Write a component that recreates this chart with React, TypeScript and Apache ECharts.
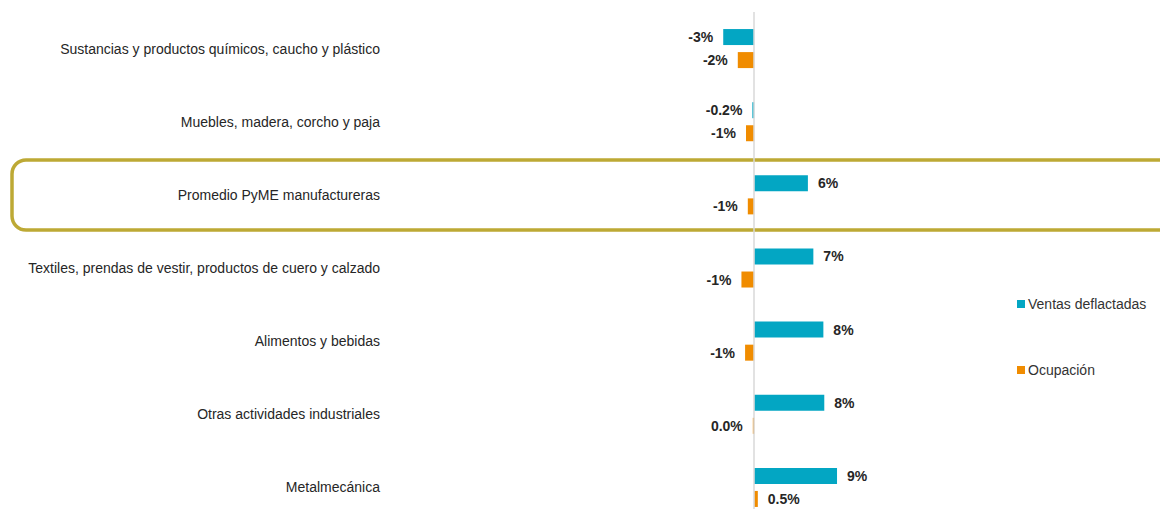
import React, { useEffect, useRef } from "react";
import * as echarts from "echarts";

const categories = [
  "Sustancias y productos químicos, caucho y plástico",
  "Muebles, madera, corcho y paja",
  "Promedio PyME manufactureras",
  "Textiles, prendas de vestir, productos de cuero y calzado",
  "Alimentos y bebidas",
  "Otras actividades industriales",
  "Metalmecánica",
];
const ventasValues = [-3.4, -0.2, 5.9, 6.5, 7.6, 7.7, 9.1];
const ventasLabels = ["-3%", "-0.2%", "6%", "7%", "8%", "8%", "9%"];
const ocupacionValues = [-1.8, -0.9, -0.7, -1.4, -1.0, -0.15, 0.4];
const ocupacionLabels = ["-2%", "-1%", "-1%", "-1%", "-1%", "0.0%", "0.5%"];

const FONT = "'Liberation Sans', Arial, sans-serif";
const NARROW = "'Liberation Sans Narrow', 'Arial Narrow', 'Liberation Sans', sans-serif";

export default function App() {
  const ref = useRef<HTMLDivElement>(null);
  useEffect(() => {
    if (!ref.current) return;
    const chart = echarts.init(ref.current, null, { renderer: "svg" });
    const mkLabel = (labels: string[]) => ({
      show: true,
      position: "right" as const,
      distance: 10,
      fontFamily: NARROW,
      fontWeight: "bold" as const,
      fontSize: 14,
      color: "#262626",
      formatter: (p: any) => labels[p.dataIndex],
    });
    const mkData = (vals: number[]) =>
      vals.map((v) => ({
        value: v,
        label: { position: v < 0 ? "left" : "right" },
      }));
    chart.setOption({
      animation: false,
      graphic: [
        {
          type: "rect",
          z: 0,
          shape: { x: 12, y: 160, width: 1180, height: 70, r: 14 },
          style: { fill: "none", stroke: "#BDA935", lineWidth: 3.5 },
        },
      ],
      legend: {
        orient: "vertical",
        left: 1012,
        top: 292,
        itemWidth: 8,
        itemHeight: 8,
        itemGap: 52,
        icon: "rect",
        textStyle: { fontFamily: FONT, fontSize: 14, color: "#333", padding: [0, 0, 0, -2] },
        data: ["Ventas deflactadas", "Ocupación"],
      },
      grid: { left: 390, width: 610, top: 12, height: 512, outerBoundsMode: "none", containLabel: false },
      xAxis: {
        type: "value",
        min: -40,
        max: 27,
        show: false,
      },
      yAxis: {
        type: "category",
        inverse: true,
        data: categories,
        axisLine: { show: false },
        axisTick: { show: false },
        axisLabel: { fontFamily: FONT, fontSize: 14, color: "#262626", margin: 10 },
      },
      series: [
        {
          name: "Ventas deflactadas",
          type: "bar",
          barWidth: 16,
          barGap: "44%",
          itemStyle: { color: "#03A6C3" },
          label: mkLabel(ventasLabels),
          data: mkData(ventasValues),
          markLine: {
            silent: true,
            symbol: "none",
            label: { show: false },
            lineStyle: { color: "#D9D9D9", type: "solid", width: 1.5 },
            data: [{ xAxis: 0 }],
          },
        },
        {
          name: "Ocupación",
          type: "bar",
          barWidth: 16,
          barGap: "44%",
          itemStyle: { color: "#F08C00" },
          label: mkLabel(ocupacionLabels),
          data: mkData(ocupacionValues),
        },
      ],
    });
    return () => chart.dispose();
  }, []);
  return <div ref={ref} style={{ width: 1168, height: 517, margin: -8 }} />;
}
